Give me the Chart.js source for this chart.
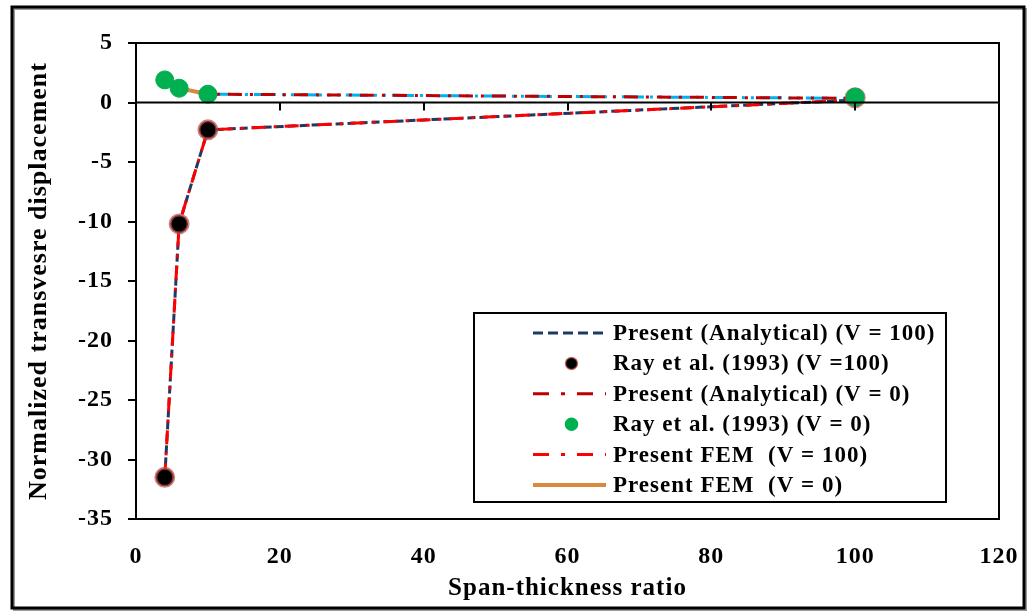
<!DOCTYPE html>
<html>
<head>
<meta charset="utf-8">
<script src="https://cdn.jsdelivr.net/npm/chart.js@4.4.1/dist/chart.umd.min.js"></script>
<style>
  html, body { margin: 0; padding: 0; background: #fff; }
  #wrap { width: 1029px; height: 613px; }
</style>
</head>
<body>
<div id="wrap"><canvas id="plot" width="1029" height="613"></canvas></div>
<script>
"use strict";
// span-thickness ratios and normalized transverse displacement
const ratios = [4, 6, 10, 100];
const analytical100 = [-31.5, -10.2, -2.3, 0.2];
const ray100 = [-31.5, -10.2, -2.3, 0.4];
const analytical0 = [1.9, 1.2, 0.7, 0.35];
const ray0 = [1.9, 1.2, 0.7, 0.45];
const fem100 = [-31.5, -10.2, -2.3, 0.2];
const femRatios0 = [4, 6, 10];
const fem0 = [1.9, 1.2, 0.7];
const trendRatios = [10, 100];
const trend0 = [0.7, 0.35];
const xTicks = [0, 20, 40, 60, 80, 100, 120];
const yTicks = [5, 0, -5, -10, -15, -20, -25, -30, -35];

const SERIF = "'Liberation Serif', 'Times New Roman', serif";
const pts = (xs, ys) => xs.map((x, i) => ({ x: x, y: ys[i] }));

const series = [
    { label: 'Present (Analytical) (V = 100)', data: pts(ratios, analytical100), showLine: true,
      borderColor: '#1F3864', borderWidth: 3, borderDash: [8, 4], pointRadius: 0, order: 4, legend: 'dash' },
    { label: 'Ray et al. (1993) (V =100)', data: pts(ratios, ray100), showLine: false,
      backgroundColor: '#000', borderColor: 'rgba(192,80,77,0.7)', borderWidth: 3, pointRadius: 9, order: 1, legend: 'dot' },
    { label: 'Present (Analytical) (V = 0)', data: pts(ratios, analytical0), showLine: true,
      borderColor: '#C00000', borderWidth: 3, borderDash: [14, 8, 3, 8], pointRadius: 0, order: 5, legend: 'dashdot' },
    { label: 'Ray et al. (1993) (V = 0)', data: pts(ratios, ray0), showLine: false,
      backgroundColor: '#00B050', borderColor: '#00B050', borderWidth: 1, pointRadius: 9, order: 0, legend: 'dot' },
    { label: 'Present FEM  (V = 100)', data: pts(ratios, fem100), showLine: true,
      borderColor: '#FF0000', borderWidth: 3, borderDash: [14, 8, 3, 8], pointRadius: 0, order: 3, legend: 'dashdot' },
    { label: 'Present FEM  (V = 0)', data: pts(femRatios0, fem0), showLine: true,
      borderColor: '#D9893F', borderWidth: 4, pointRadius: 0, order: 2, legend: 'solid' },
    { label: '', data: pts(trendRatios, trend0), showLine: true,
      borderColor: '#00B0F0', borderWidth: 3, borderDash: [22, 6, 3, 6, 3, 6], pointRadius: 0, order: 6, legend: null }
];

// slightly wider text spacing everywhere
const spacingPlugin = {
    id: 'spacing',
    beforeLayout(chart) { chart.ctx.letterSpacing = '1px'; },
    beforeDraw(chart) { chart.ctx.letterSpacing = '1px'; }
};

// frame round the whole figure, box round the plot, zero line with its ticks
const framePlugin = {
    id: 'frame',
    beforeDraw(chart) {
        const ctx = chart.ctx;
        ctx.save();
        ctx.fillStyle = '#fff';
        ctx.fillRect(0, 0, chart.width, chart.height);
        ctx.strokeStyle = '#999';
        ctx.lineWidth = 2;
        ctx.strokeRect(14, 9, 1012, 601);
        ctx.strokeStyle = '#000';
        ctx.lineWidth = 3;
        ctx.strokeRect(12, 7, 1012, 601);
        ctx.restore();
    },
    afterDatasetsDraw(chart) {
        const ctx = chart.ctx;
        const a = chart.chartArea;
        const xs = chart.scales.x;
        const y0 = chart.scales.y.getPixelForValue(0);
        ctx.save();
        ctx.strokeStyle = '#000';
        ctx.lineWidth = 2;
        ctx.strokeRect(a.left, a.top, a.right - a.left, a.bottom - a.top);
        ctx.beginPath();
        ctx.moveTo(a.left, y0);
        ctx.lineTo(a.right, y0);
        xTicks.forEach(v => {
            const px = Math.round(xs.getPixelForValue(v));
            ctx.moveTo(px, y0);
            ctx.lineTo(px, y0 + 8);
        });
        ctx.stroke();
        ctx.restore();
    }
};

// legend box inside the plot area
const legendPlugin = {
    id: 'boxLegend',
    afterDraw(chart) {
        const ctx = chart.ctx;
        const bx = 474, by = 313, bw = 472, bh = 189;
        ctx.save();
        ctx.fillStyle = '#fff';
        ctx.fillRect(bx, by, bw, bh);
        ctx.strokeStyle = '#000';
        ctx.lineWidth = 2;
        ctx.strokeRect(bx, by, bw, bh);
        const items = chart.data.datasets.filter(d => d.legend);
        items.forEach((d, i) => {
            const cy = 333 + i * 30.4;
            const x1 = 533, x2 = 606;
            ctx.strokeStyle = d.borderColor;
            if (d.legend === 'dot') {
                ctx.beginPath();
                ctx.arc((x1 + x2) / 2 + 2, cy, 6, 0, Math.PI * 2);
                ctx.fillStyle = d.backgroundColor;
                ctx.fill();
                ctx.lineWidth = 1.5;
                ctx.stroke();
            } else {
                ctx.lineWidth = d.legend === 'solid' ? 4 : 3;
                ctx.setLineDash(d.legend === 'dash' ? [10, 5] : d.legend === 'dashdot' ? [16, 12, 4, 12] : []);
                ctx.beginPath();
                ctx.moveTo(x1, cy);
                ctx.lineTo(x2, cy);
                ctx.stroke();
                ctx.setLineDash([]);
            }
            ctx.fillStyle = '#000';
            ctx.font = 'bold 23px ' + SERIF;
            ctx.textBaseline = 'middle';
            ctx.textAlign = 'left';
            ctx.fillText(d.label, 613, cy + 1);
        });
        ctx.restore();
    }
};

const chart = new Chart(document.getElementById('plot'), {
    type: 'scatter',
    data: { datasets: series },
    plugins: [spacingPlugin, framePlugin, legendPlugin],
    options: {
        responsive: false,
        animation: false,
        layout: { padding: { left: 0, right: 30, top: 43, bottom: 0 } },
        plugins: { legend: { display: false }, tooltip: { enabled: false } },
        scales: {
            x: {
                type: 'linear',
                min: 0, max: 120,
                afterBuildTicks: s => { s.ticks = xTicks.map(v => ({ value: v })); },
                afterFit: s => { s.height = 94; s.paddingLeft = 0; s.paddingRight = 0; },
                grid: { display: false },
                border: { display: true, color: '#000', width: 2 },
                ticks: { color: '#000', padding: 15, maxRotation: 0, font: { family: SERIF, size: 24, weight: 'bold' } },
                title: { display: true, text: 'Span-thickness ratio', color: '#000', padding: { top: 0, bottom: 9 },
                         font: { family: SERIF, size: 25, weight: 'bold' } }
            },
            y: {
                type: 'linear',
                min: -35, max: 5,
                afterBuildTicks: s => { s.ticks = yTicks.map(v => ({ value: v })); },
                afterFit: s => { s.width = 136; },
                grid: { drawOnChartArea: false, drawTicks: true, tickLength: 8, color: '#000', lineWidth: 2 },
                border: { display: true, color: '#000', width: 2 },
                ticks: { color: '#000', padding: 15, font: { family: SERIF, size: 24, weight: 'bold' } },
                title: { display: true, text: 'Normalized transvesre displacement', color: '#000', padding: { top: 24, bottom: 0 },
                         font: { family: SERIF, size: 26, weight: 'bold' } }
            }
        }
    }
});
</script>
</body>
</html>
